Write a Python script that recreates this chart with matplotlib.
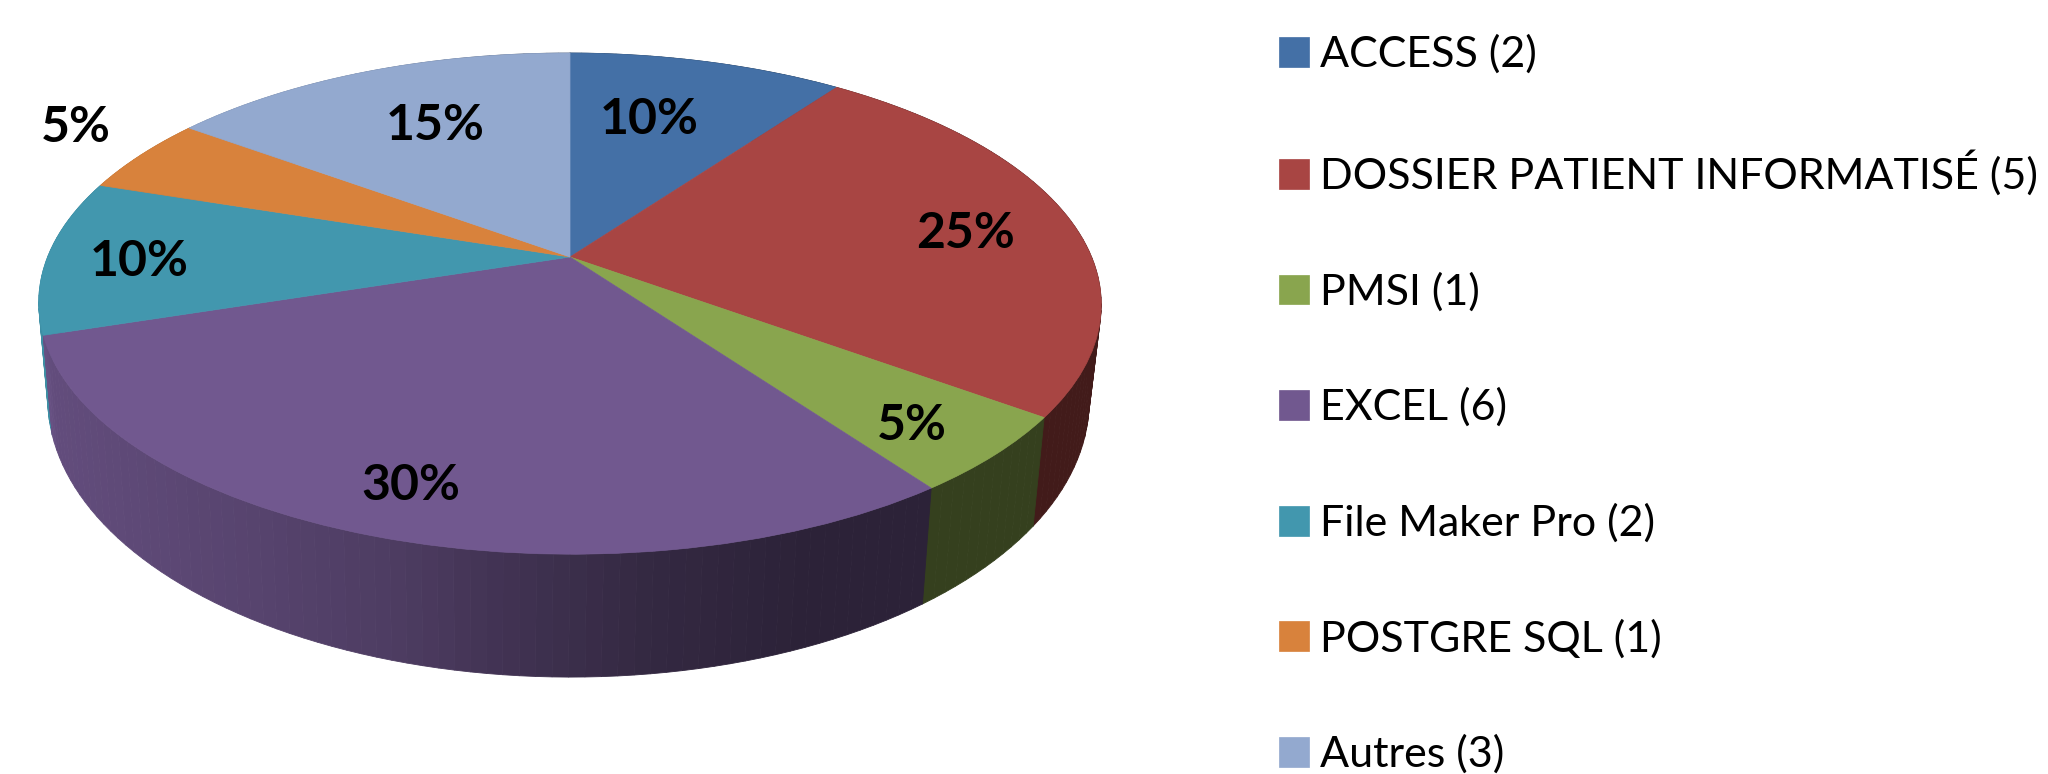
import numpy as np
import matplotlib
matplotlib.use('Agg')
import matplotlib.pyplot as plt
import matplotlib.transforms as mtransforms
from matplotlib.colors import to_rgb

plt.rcParams['font.family'] = ['Lato', 'DejaVu Sans']

# ============================================================
# data
# ============================================================
categories = ['ACCESS', 'DOSSIER PATIENT INFORMATISÉ', 'PMSI', 'EXCEL',
              'File Maker Pro', 'POSTGRE SQL', 'Autres']
counts = [2, 5, 1, 6, 2, 1, 3]
colors = ['#4470a6', '#a84543', '#89a54e', '#71588f', '#4297ae', '#d8823c', '#93a9cf']

# where each % label sits, in reference pixels
label_xy = [(649, 119), (965, 234), (912, 426), (411, 486),
            (139, 262), (76, 128), (435, 125)]


# ============================================================
# perspective: unit pie -> picture pixels
# ============================================================
class TopFace(mtransforms.Transform):
    input_dims = 2
    output_dims = 2
    is_separable = False

    def transform_non_affine(self, xy):
        xy = np.asarray(xy, dtype=float)
        x, y = xy[:, 0], xy[:, 1]
        w = 1 + 0.186 * y
        u = (522 * x + 106 * y + 570) / w
        v = (1.0 * x - 194.1 * y + 257) / w
        return np.column_stack([u, v])


def bottom_ring(pts):
    # the lower rim: a bit narrower, pushed down more towards the front
    u, v = pts[:, 0], pts[:, 1]
    return np.column_stack([u - 0.02 * (u - 493), v + 100 + 0.105 * (v - 336)])


def wall_shade(u):
    return np.interp(u, [38, 50, 250, 400, 500, 650, 800],
                     [0.95, 0.87, 0.77, 0.68, 0.58, 0.46, 0.39])


top = TopFace()

fig = plt.figure(figsize=(20.48, 7.74), dpi=100)
ax = fig.add_axes([0, 0, 1, 1])

# top face
wedges, _ = ax.pie(counts, colors=colors, startangle=90, counterclock=False, radius=1)
for w, c in zip(wedges, colors):
    w.set_transform(top + ax.transData)
    w.set_edgecolor(c)
    w.set_linewidth(0.5)
    w.set_zorder(2)

ax.set_aspect('auto')
ax.set_xlim(0, 2048)
ax.set_ylim(774, 0)
ax.axis('off')

# side wall, back slices first so the front ones cover them
edges = np.cumsum([0] + counts) / sum(counts) * 2 * np.pi
for i in [4, 5, 6, 0, 1, 2, 3]:
    steps = np.arange(edges[i], edges[i + 1] + 1e-9, np.radians(1.5))
    steps = np.append(steps, edges[i + 1])
    for t0, t1 in zip(steps[:-1], steps[1:]):
        rim = top.transform(np.array([[np.sin(t0), np.cos(t0)], [np.sin(t1), np.cos(t1)]]))
        low = bottom_ring(rim)
        quad = np.vstack([rim, low[::-1]])
        col = np.array(to_rgb(colors[i])) * wall_shade(rim[:, 0].mean())
        ax.fill(quad[:, 0], quad[:, 1], color=col, lw=0.6, zorder=1)

# percent labels
for n, (x, y) in zip(counts, label_xy):
    ax.text(x, y, f'{n / sum(counts) * 100:.0f}%', fontsize=36, fontweight='bold',
            ha='center', va='center', color='black', zorder=3)

# legend
ax.legend(wedges, [f'{c} ({n})' for c, n in zip(categories, counts)],
          loc='upper left', bbox_to_anchor=(1279, 34.5), bbox_transform=ax.transData,
          frameon=False, fontsize=31, borderpad=0, borderaxespad=0,
          handlelength=0.69, handleheight=0.69, handletextpad=0.26,
          labelspacing=1.77)

fig.savefig('out.png', dpi=100)
